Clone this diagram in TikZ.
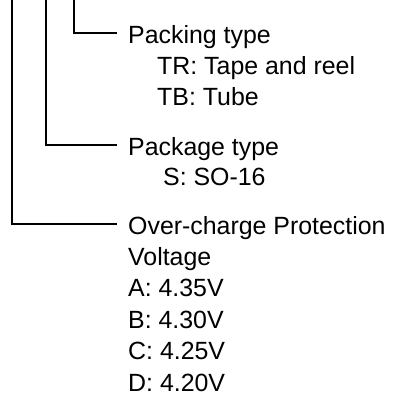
\documentclass[tikz,border=0pt]{standalone}
\usepackage{fontspec}
\setmainfont{Liberation Sans}
\usetikzlibrary{positioning}
\tikzset{
  lead/.style={line width=1.6pt, color=black},
  head/.style={anchor=base west, inner xsep=11pt, inner ysep=0pt,
    text height=20pt, text depth=0pt},
  opts/.style={anchor=north west, inner sep=0pt, align=left},
}
\begin{document}
\begin{tikzpicture}[x=1pt, y=-1pt, font=\fontsize{24.9pt}{31.5pt}\selectfont]
    \useasboundingbox (0,0) rectangle (403,397);
    % ordering code fields
    \coordinate (f1) at (12,0);
    \coordinate (f2) at (46,0);
    \coordinate (f3) at (74,0);
    \node[head] (pack) at (117,43) {Packing type};
    \node[head] (pkg) at (117,155) {Package type};
    \node[head] (ocv) at (117,234) {Over-charge Protection};
    \node[opts, below right=12.8pt and 40pt of pack.base west] (packopt) {TR: Tape and reel\\TB: Tube};
    \node[opts, below right=12.8pt and 46pt of pkg.base west] (pkgopt) {S: SO-16};
    \node[opts, below right=12.8pt and 11pt of ocv.base west] (ocvopt) {Voltage\\A: 4.35V\\B: 4.30V\\C: 4.25V\\D: 4.20V};
    \foreach \f/\n in {f3/pack,f2/pkg,f1/ocv} \draw[lead] (\f) |- (\n.west);
\end{tikzpicture}
\end{document}
